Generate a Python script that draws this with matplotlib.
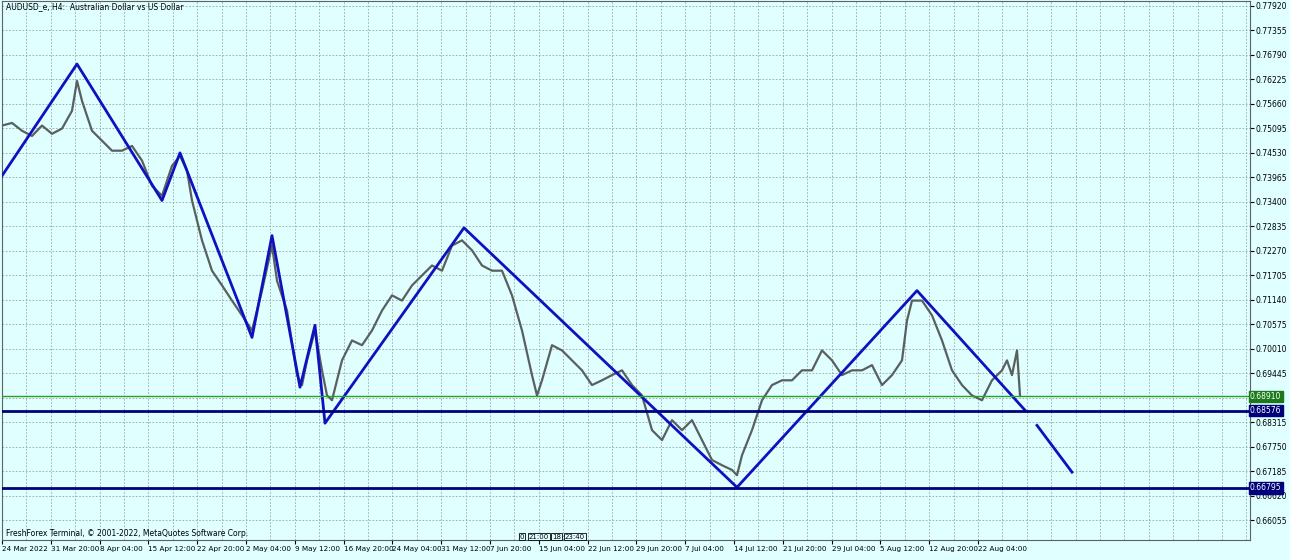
import matplotlib
matplotlib.use("Agg")
import matplotlib.pyplot as plt

# bar positions (time axis units) and AUDUSD prices
bar_pos = [0,10,20,30,40,50,60,70,75,80,90,100,110,120,130,140,150,160,170,178,185,190,200,210,220,230,240,250,260,270,275,285,295,300,305,313,320,325,330,340,350,360,370,380,390,400,410,420,430,440,450,460,470,480,490,500,510,520,530,535,540,550,560,570,580,590,600,610,620,630,640,650,660,670,680,690,700,710,720,730,735,740,750,760,770,780,790,800,810,820,830,840,850,860,870,880,890,900,905,910,920,930,940,950,960,970,980,990,1000,1005,1010,1015,1018]
close = [0.7516,0.7522,0.7504,0.7492,0.7516,0.7497,0.7509,0.7550,0.7619,0.7573,0.7504,0.7481,0.7458,0.7458,0.7469,0.7435,0.7377,0.7354,0.7423,0.7446,0.7412,0.7343,0.7251,0.7181,0.7147,0.7112,0.7078,0.7043,0.7135,0.7239,0.7158,0.7089,0.6940,0.6917,0.6974,0.7043,0.6951,0.6893,0.6882,0.6974,0.7020,0.7009,0.7043,0.7089,0.7124,0.7112,0.7147,0.7170,0.7193,0.7181,0.7239,0.7251,0.7228,0.7193,0.7181,0.7181,0.7124,0.7043,0.6940,0.6893,0.6928,0.7009,0.6997,0.6974,0.6951,0.6917,0.6928,0.6940,0.6951,0.6917,0.6893,0.6813,0.6790,0.6836,0.6813,0.6836,0.6790,0.6744,0.6732,0.6721,0.6709,0.6755,0.6813,0.6882,0.6917,0.6928,0.6928,0.6951,0.6951,0.6997,0.6974,0.6940,0.6951,0.6951,0.6963,0.6917,0.6940,0.6974,0.7066,0.7112,0.7112,0.7078,0.7020,0.6951,0.6917,0.6893,0.6882,0.6928,0.6951,0.6974,0.6940,0.6997,0.6893]

zz_pos = [0,75,160,178,250,270,298,313,323,462,735,915,1023]
zz_price = [0.7400,0.7658,0.7343,0.7453,0.7027,0.7262,0.6912,0.7055,0.6829,0.7280,0.6681,0.7135,0.6859]
ext_pos = [1035,1070]
ext_price = [0.6824,0.6716]

level_green = 0.68910
level_navy = [0.68576, 0.66795]

price_ticks = [0.77920,0.77355,0.76790,0.76225,0.75660,0.75095,0.74530,0.73965,0.73400,0.72835,0.72270,0.71705,0.71140,0.70575,0.70010,0.69445,0.68315,0.67750,0.67185,0.66620,0.66055]
grid_prices = price_ticks + [0.68880]
date_labels = ["24 Mar 2022","31 Mar 20:00","8 Apr 04:00","15 Apr 12:00","22 Apr 20:00","2 May 04:00","9 May 12:00","16 May 20:00","24 May 04:00","31 May 12:00","7 Jun 20:00","15 Jun 04:00","22 Jun 12:00","29 Jun 20:00","7 Jul 04:00","14 Jul 12:00","21 Jul 20:00","29 Jul 04:00","5 Aug 12:00","12 Aug 20:00","22 Aug 04:00"]

bg = "#e0ffff"
fig = plt.figure(figsize=(12.9, 5.6), dpi=100, facecolor=bg)
ax = fig.add_axes([2/1290, 20/560, 1248/1290, 539/560], facecolor=bg)
ax.set_xlim(0, 1248)
ax.set_ylim(0.65594, 0.78035)

date_pos = [i * 48.8 for i in range(len(date_labels))]
for i in range(52):
    ax.axvline(i * 24.4 + 24.4, color="#9aa4a4", ls=(0, (2, 2)), lw=0.6, zorder=0)
for p in grid_prices:
    ax.axhline(p, color="#9aa4a4", ls=(0, (2, 2)), lw=0.6, zorder=0)

ax.plot(bar_pos, close, color="#5a5f5f", lw=1.6, zorder=2)
ax.plot(zz_pos, zz_price, color="#1010c0", lw=2, zorder=3)
ax.plot(ext_pos, ext_price, color="#1010c0", lw=2, zorder=3)
ax.axhline(level_green, color="#2aa02a", lw=1, zorder=3)
for lv in level_navy:
    ax.axhline(lv, color="#00007a", lw=2, zorder=3)

ax.yaxis.tick_right()
ax.set_yticks(price_ticks)
ax.set_yticklabels([f"{p:.5f}" for p in price_ticks], fontsize=5.5)
ax.tick_params(axis="y", length=3, pad=1)
ax.set_xticks(date_pos)
ax.set_xticklabels(date_labels, fontsize=5.2, ha="left")
ax.tick_params(axis="x", length=3, pad=1)
for s in ax.spines.values():
    s.set_color("#606060")

def tag(p, fc):
    ax.text(1.0, p, f"{p:.5f}", transform=ax.get_yaxis_transform(), fontsize=5.5,
            color="white", va="center", ha="left",
            bbox=dict(boxstyle="square,pad=0.15", fc=fc, ec=fc))
tag(level_green, "#1a7a1a")
for lv in level_navy:
    tag(lv, "#00007a")

ax.text(0.003, 0.997, "AUDUSD_e, H4:  Australian Dollar vs US Dollar", transform=ax.transAxes,
        fontsize=5.5, va="top", ha="left")
ax.text(0.003, 0.004, "FreshForex Terminal, © 2001-2022, MetaQuotes Software Corp.", transform=ax.transAxes,
        fontsize=5.5, va="bottom", ha="left")
for x, t in [(518, "0"), (527, "21:00"), (550, "18"), (563, "23:40")]:
    ax.text(x, 0.6567, t, fontsize=5, va="center", ha="left",
            bbox=dict(boxstyle="square,pad=0.1", fc=bg, ec="black", lw=0.6))

fig.savefig("out.png", dpi=100, facecolor=bg)
